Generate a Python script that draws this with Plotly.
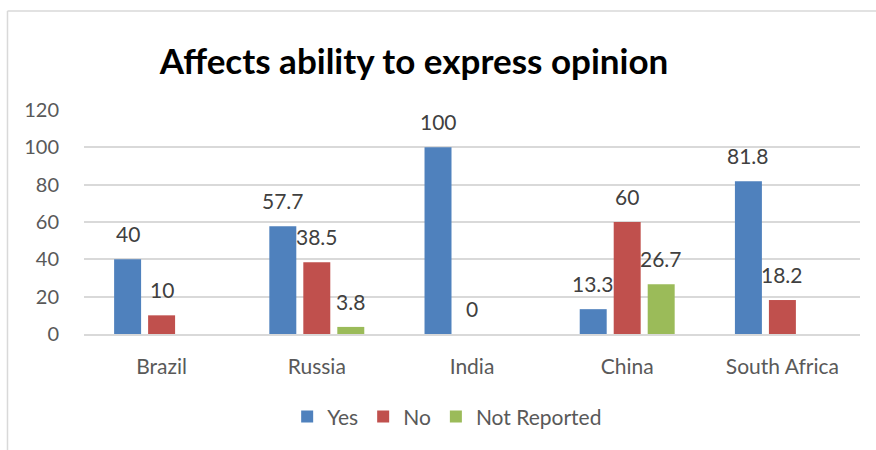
import plotly.graph_objects as go

categories = ["Brazil", "Russia", "India", "China", "South Africa"]
yes_vals = [40, 57.7, 100, 13.3, 81.8]
no_vals = [10, 38.5, 0, 60, 18.2]
nr_vals = [None, 3.8, None, 26.7, None]
series_names = ["Yes", "No", "Not Reported"]
colors = ["#4F81BD", "#C0504D", "#9BBB59"]
y_ticks = [0, 20, 40, 60, 80, 100, 120]

FONT = "Lato, Open Sans, sans-serif"
fig = go.Figure()
all_series = [yes_vals, no_vals, nr_vals]
for name, vals, col in zip(series_names, all_series, colors):
    fig.add_trace(go.Bar(
        x=categories, y=vals, name=name, marker_color=col,
        marker_line_width=0,
    ))

# data labels above bars
offsets = [-34, 0, 34]
for vals, off in zip(all_series, offsets):
    for cat, v in zip(categories, vals):
        if v is None:
            continue
        fig.add_annotation(
            x=cat, y=v, xref="x", yref="y", text=f"{v:g}", showarrow=False,
            xshift=off, yshift=11, yanchor="bottom",
            font=dict(family=FONT, size=21, color="#404040"),
        )

# outer chart border (left and top edges visible)
fig.add_shape(type="line", xref="paper", yref="paper", x0=-0.0986, x1=1.03,
              y0=1.442, y1=1.442, line=dict(color="#D9D9D9", width=1.5))
fig.add_shape(type="line", xref="paper", yref="paper", x0=-0.0986, x1=-0.0986,
              y0=1.442, y1=-0.53, line=dict(color="#D9D9D9", width=1.5))

fig.update_layout(
    width=876, height=450,
    margin=dict(l=84, r=16, t=110, b=116),
    paper_bgcolor="white", plot_bgcolor="white",
    barmode="group", bargap=0.343, bargroupgap=0.206,
    title=dict(text="<b>Affects ability to express opinion</b>", x=(414 / 876), xanchor="center",
               y=1 - 62 / 450, yanchor="middle",
               font=dict(family=FONT, size=35, color="#000000")),
    legend=dict(orientation="h", x=0.468, xanchor="center", y=-0.37, yanchor="middle",
                font=dict(family=FONT, size=21, color="#595959"), itemwidth=30,
                traceorder="normal"),
    showlegend=True,
    font=dict(family=FONT),
)
fig.update_yaxes(range=[0, 120], tickvals=y_ticks, showgrid=True, gridcolor="#D9D9D9", gridwidth=1.5,
                 zeroline=False, showline=False,
                 tickfont=dict(family=FONT, size=20, color="#595959"),
                 ticks="outside", ticklen=20, tickcolor="rgba(0,0,0,0)")
fig.update_xaxes(showline=True, linecolor="#D9D9D9", linewidth=1.5,
                 tickfont=dict(family=FONT, size=21, color="#595959"),
                 ticks="outside", ticklen=13, tickcolor="rgba(0,0,0,0)")

fig.write_html("out.html")
